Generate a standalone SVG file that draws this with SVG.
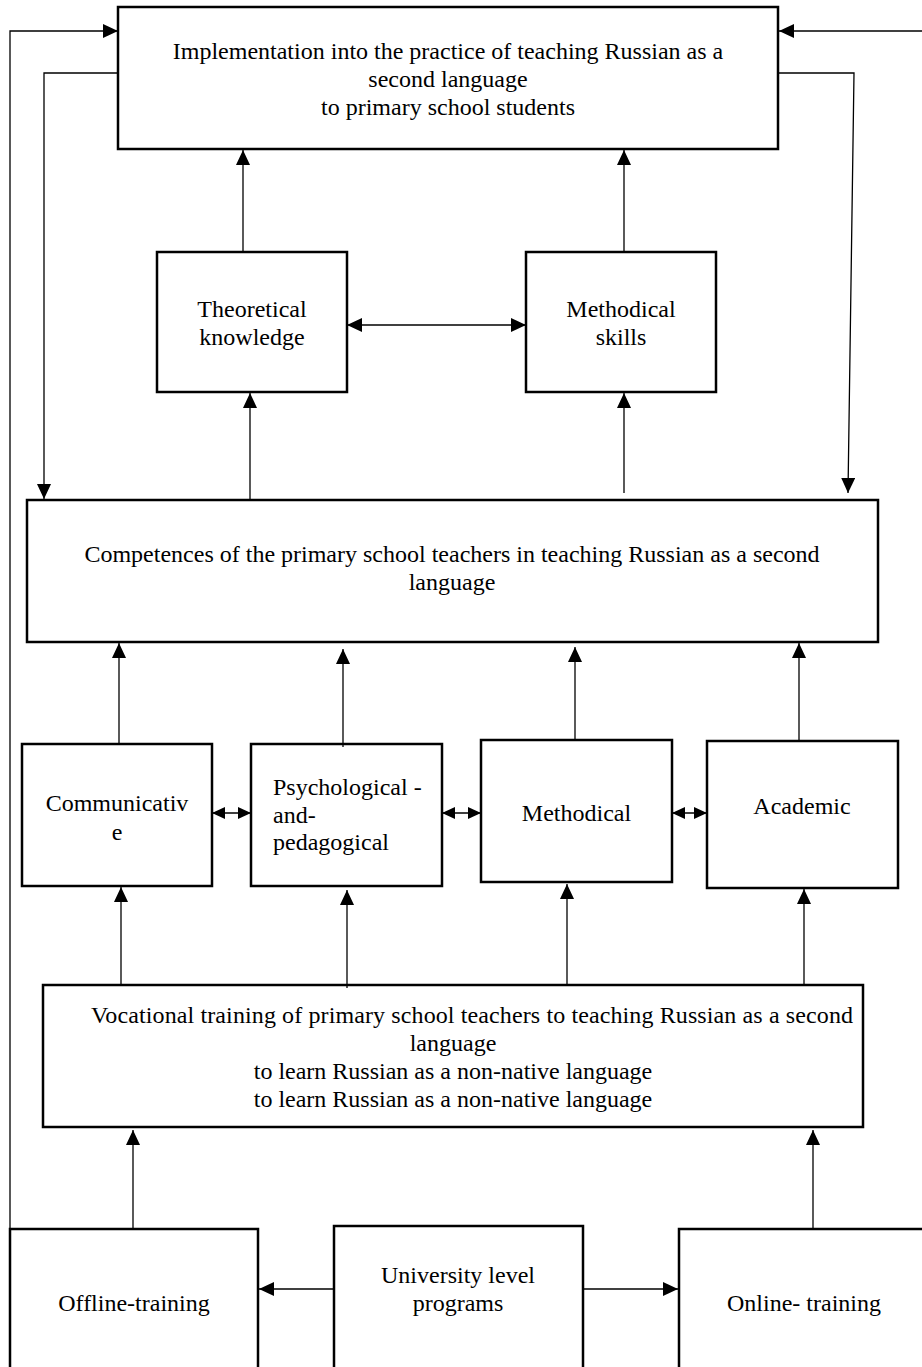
<svg xmlns="http://www.w3.org/2000/svg" width="922" height="1367" viewBox="0 0 922 1367">
<style>
.box{fill:#fff;stroke:#000;stroke-width:2.5}
.t{font-family:"Liberation Serif","Times New Roman",serif;font-size:24px;fill:#000;text-anchor:middle}
.tl{font-family:"Liberation Serif","Times New Roman",serif;font-size:24px;fill:#000}
.c{fill:none;stroke:#000;stroke-width:1.3}
.a{marker-end:url(#ah)}
.d{marker-start:url(#ah);marker-end:url(#ah)}
.ds{marker-start:url(#sh);marker-end:url(#sh)}
</style>
<defs>
<marker id="ah" markerWidth="15" markerHeight="14" refX="15" refY="7" orient="auto-start-reverse" markerUnits="userSpaceOnUse"><path d="M0,0 L15,7 L0,14 z" fill="#000"/></marker>
<marker id="sh" markerWidth="13" markerHeight="12" refX="13" refY="6" orient="auto-start-reverse" markerUnits="userSpaceOnUse"><path d="M0,0 L13,6 L0,12 z" fill="#000"/></marker>
</defs>
<rect width="922" height="1367" fill="#fff"/>
<g id="implementation"><rect class="box" x="118" y="7" width="660" height="142"/>
<text class="t" x="448" y="59">Implementation into the practice of teaching Russian as a</text>
<text class="t" x="448" y="87">second language</text>
<text class="t" x="448" y="115">to primary school students</text></g>
<g id="theoretical"><rect class="box" x="157" y="252" width="190" height="140"/>
<text class="t" x="252" y="317">Theoretical</text><text class="t" x="252" y="345">knowledge</text></g>
<g id="methodical-skills"><rect class="box" x="526" y="252" width="190" height="140"/>
<text class="t" x="621" y="317">Methodical</text><text class="t" x="621" y="345">skills</text></g>
<g id="competences"><rect class="box" x="27" y="500" width="851" height="142"/>
<text class="t" x="452" y="562">Competences of the primary school teachers in teaching Russian as a second</text>
<text class="t" x="452" y="590">language</text></g>
<g id="communicative"><rect class="box" x="22" y="744" width="190" height="142"/>
<text class="t" x="117" y="811">Communicativ</text><text class="t" x="117" y="840">e</text></g>
<g id="psychological"><rect class="box" x="251" y="744" width="191" height="142"/>
<text class="tl" x="273" y="795">Psychological -</text><text class="tl" x="273" y="823">and-</text><text class="tl" x="273" y="850">pedagogical</text></g>
<g id="methodical"><rect class="box" x="481" y="740" width="191" height="142"/>
<text class="t" x="576.5" y="821">Methodical</text></g>
<g id="academic"><rect class="box" x="707" y="741" width="191" height="147"/>
<text class="t" x="802" y="814">Academic</text></g>
<g id="vocational"><rect class="box" x="43" y="985" width="820" height="142"/>
<text class="t" x="472" y="1023" textLength="762">Vocational training of primary school teachers to teaching Russian as a second</text>
<text class="t" x="453" y="1051">language</text>
<text class="t" x="453" y="1079">to learn Russian as a non-native language</text>
<text class="t" x="453" y="1107">to learn Russian as a non-native language</text></g>
<g id="offline"><rect class="box" x="10" y="1229" width="248" height="145"/>
<text class="t" x="134" y="1311">Offline-training</text></g>
<g id="university"><rect class="box" x="334" y="1226" width="249" height="148"/>
<text class="t" x="458" y="1283">University level</text><text class="t" x="458" y="1311">programs</text></g>
<g id="online"><rect class="box" x="679" y="1229" width="250" height="145"/>
<text class="t" x="804" y="1311">Online- training</text></g>
<g id="connectors">
<polyline class="c a" points="10,1229 10,31 118,31"/>
<line class="c a" x1="922" y1="31" x2="779" y2="31"/>
<polyline class="c a" points="118,73 44,73 44,499"/>
<polyline class="c a" points="778,73 854,73 848,493"/>
<line class="c a" x1="243" y1="252" x2="243" y2="150"/>
<line class="c a" x1="624" y1="252" x2="624" y2="150"/>
<line class="c d" x1="347" y1="325" x2="526" y2="325"/>
<line class="c a" x1="250" y1="500" x2="250" y2="393"/>
<line class="c a" x1="624" y1="493" x2="624" y2="393"/>
<line class="c a" x1="119" y1="744" x2="119" y2="643"/>
<line class="c a" x1="343" y1="747" x2="343" y2="649"/>
<line class="c a" x1="575" y1="741" x2="575" y2="647"/>
<line class="c a" x1="799" y1="741" x2="799" y2="643"/>
<line class="c ds" x1="212" y1="813" x2="251" y2="813"/>
<line class="c ds" x1="442" y1="813" x2="481" y2="813"/>
<line class="c ds" x1="672" y1="813" x2="707" y2="813"/>
<line class="c a" x1="121" y1="985" x2="121" y2="887"/>
<line class="c a" x1="347" y1="988" x2="347" y2="890"/>
<line class="c a" x1="567" y1="985" x2="567" y2="884"/>
<line class="c a" x1="804" y1="985" x2="804" y2="889"/>
<line class="c a" x1="133" y1="1229" x2="133" y2="1130"/>
<line class="c a" x1="813" y1="1229" x2="813" y2="1130"/>
<line class="c a" x1="334" y1="1289" x2="259" y2="1289"/>
<line class="c a" x1="583" y1="1289" x2="678" y2="1289"/>
</g>
</svg>
